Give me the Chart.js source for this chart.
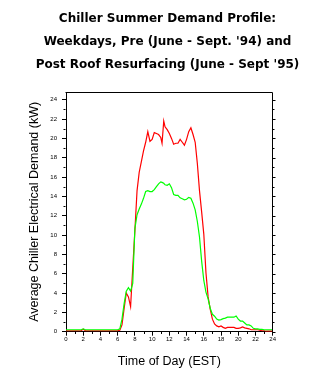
<!DOCTYPE html>
<html><head><meta charset="utf-8">
<style>html,body{margin:0;padding:0;background:#fff;overflow:hidden}</style>
<script src="https://cdn.jsdelivr.net/npm/chart.js@4"></script>
</head><body>
<canvas id="c" width="326" height="388"></canvas>
<script>
const titleLines = ["Chiller Summer Demand Profile:", "Weekdays, Pre (June - Sept. '94) and", "Post Roof Resurfacing (June - Sept '95)"];
const xTitle = "Time of Day (EST)";
const yTitle = "Average Chiller Electrical Demand (kW)";
const hours = [0,0.25,0.5,0.75,1,1.25,1.5,1.75,2,2.25,2.5,2.75,3,3.25,3.5,3.75,4,4.25,4.5,4.75,5,5.25,5.5,5.75,6,6.25,6.5,6.75,7,7.25,7.5,7.75,8,8.25,8.5,8.75,9,9.25,9.5,9.75,10,10.25,10.5,10.75,11,11.15,11.35,11.5,11.75,12,12.25,12.5,12.75,13,13.25,13.5,13.75,14,14.25,14.5,14.75,15,15.25,15.5,15.75,16,16.25,16.5,16.75,17,17.25,17.5,17.75,18,18.25,18.5,18.75,19,19.25,19.5,19.75,20,20.25,20.5,20.75,21,21.25,21.5,21.75,22,22.25,22.5,22.75,23,23.25,23.5,23.75,24];
const pre94 = [0.1,0.1,0.1,0.1,0.1,0.1,0.1,0.1,0.25,0.1,0.1,0.1,0.1,0.1,0.1,0.1,0.1,0.1,0.1,0.1,0.1,0.1,0.1,0.1,0.1,
  0.15,0.7,2.4,4.0,3.6,2.6,6.6,10.5,14.6,16.5,17.6,18.7,19.6,20.7,19.7,19.9,20.6,20.5,20.4,20.1,
  19.5,21.8,
  21.2,20.9,20.5,20.0,19.4,19.5,19.5,19.9,19.6,19.3,19.9,20.7,21.1,20.4,19.6,17.4,14.6,12.4,10.1,6.1,3.6,2.3,1.3,0.8,0.6,0.5,0.6,0.45,0.35,0.45,0.45,0.45,0.45,0.35,0.35,0.4,0.5,0.4,0.35,0.3,0.2,0.2,0.2,0.2,0.15,0.1,0.1,0.05,0.05,0.05,0.05];
const post95 = [0.2,0.2,0.2,0.2,0.2,0.2,0.2,0.2,0.3,0.2,0.2,0.2,0.2,0.2,0.2,0.2,0.2,0.2,0.2,0.2,0.2,0.2,0.2,0.2,0.2,
  0.3,1.3,2.9,4.2,4.55,4.2,5.0,10.7,12.1,12.7,13.2,13.8,14.5,14.6,14.5,14.5,14.7,15.0,15.3,15.5,
  15.45,15.35,
  15.2,15.15,15.3,14.9,14.2,14.1,14.1,13.85,13.75,13.65,13.7,13.9,13.8,13.3,12.6,11.4,9.8,7.3,5.3,4.1,3.4,2.4,1.8,1.6,1.3,1.2,1.25,1.35,1.4,1.5,1.5,1.5,1.5,1.63,1.3,1.1,1.1,0.9,0.7,0.7,0.6,0.35,0.3,0.3,0.25,0.25,0.2,0.2,0.2,0.2,0.2];
const xTicks = [0,2,4,6,8,10,12,14,16,18,20,22,24];
const yTicks = [0,2,4,6,8,10,12,14,16,18,20,22,24];
const xMinor = [1,3,5,7,9,11,13,15,17,19,21,23];
const yMinor = [1,3,5,7,9,11,13,15,17,19,21,23];
const yAll = [0,1,2,3,4,5,6,7,8,9,10,11,12,13,14,15,16,17,18,19,20,21,22,23,24];

const framePlugin = {
  id: 'frame',
  afterDraw(chart) {
    const {ctx, chartArea: a, scales} = chart;
    ctx.save();
    ctx.strokeStyle = '#000';
    ctx.lineWidth = 1;
    const L = Math.round(a.left) - 0.5, R = Math.round(a.right) - 0.5;
    const T = Math.round(a.top) + 0.5, B = Math.round(a.bottom) - 0.5;
    ctx.beginPath();
    ctx.moveTo(L, T); ctx.lineTo(R, T); ctx.lineTo(R, B);
    // minor ticks left
    yMinor.forEach(v => { const y = Math.round(scales.y.getPixelForValue(v)) + 0.5; ctx.moveTo(L - 2, y); ctx.lineTo(L, y); });
    // right ticks
    yAll.forEach(v => { const y = Math.round(scales.y.getPixelForValue(v)) + 0.5; const len = v % 2 === 0 ? 3 : 2; ctx.moveTo(R, y); ctx.lineTo(R + len, y); });
    // minor ticks bottom
    xMinor.forEach(v => { const x = Math.round(scales.x.getPixelForValue(v)) + 0.5; ctx.moveTo(x, B); ctx.lineTo(x, B + 2.5); });
    ctx.stroke();
    ctx.restore();
  }
};

new Chart(document.getElementById('c'), {
  type: 'line',
  data: {
    datasets: [
      { label: "Post '95", data: hours.map((h, i) => ({x: h, y: post95[i]})), borderColor: '#00ff00', borderWidth: 1.2, pointRadius: 0, tension: 0, fill: false },
      { label: "Pre '94", data: hours.map((h, i) => ({x: h, y: pre94[i]})), borderColor: '#ff0000', borderWidth: 1.2, pointRadius: 0, tension: 0, fill: false }
    ]
  },
  options: {
    responsive: false,
    animation: false,
    layout: { padding: { left: 10, right: 1, top: 0, bottom: 0 } },
    plugins: {
      legend: { display: false },
      tooltip: { enabled: false },
      title: {
        display: true, text: titleLines, color: '#000',
        font: { family: 'DejaVu Sans', weight: 'bold', size: 12, lineHeight: 23/12 },
        padding: { top: 7.5, bottom: 15.5 }
      }
    },
    scales: {
      x: {
        type: 'linear', min: 0, max: 24, position: 'bottom',
        afterBuildTicks: s => { s.ticks = xTicks.map(v => ({value: v})); },
        afterFit: s => { s.height = 56.3; },
        grid: { drawOnChartArea: false, tickLength: 4, color: '#000', tickColor: '#000' },
        border: { display: true, color: '#000', width: 1 },
        ticks: { color: '#000', font: { family: 'Arial', size: 6 }, padding: 0.5, autoSkip: false, maxRotation: 0 },
        title: { display: true, text: xTitle, color: '#000', font: { family: 'Arial', size: 12.5, lineHeight: 1.2 }, padding: { top: 0, bottom: 18.5 } }
      },
      y: {
        type: 'linear', min: 0, max: 24.8, position: 'left',
        afterBuildTicks: s => { s.ticks = yTicks.map(v => ({value: v})); },
        afterFit: s => { s.width = 56; },
        grid: { drawOnChartArea: false, tickLength: 4, color: '#000', tickColor: '#000' },
        border: { display: true, color: '#000', width: 1 },
        ticks: { color: '#000', font: { family: 'Arial', size: 6 }, padding: 5 },
        title: { display: true, text: yTitle, color: '#000', font: { family: 'Arial', size: 12.5, lineHeight: 1.2 }, padding: { top: 17, bottom: 0 } }
      },
      y2: {
        type: 'linear', min: 0, max: 24.8, position: 'right',
        afterFit: s => { s.width = 52.3; },
        grid: { display: false }, border: { display: false }, ticks: { display: false }
      }
    }
  },
  plugins: [framePlugin]
});
</script>
</body></html>
